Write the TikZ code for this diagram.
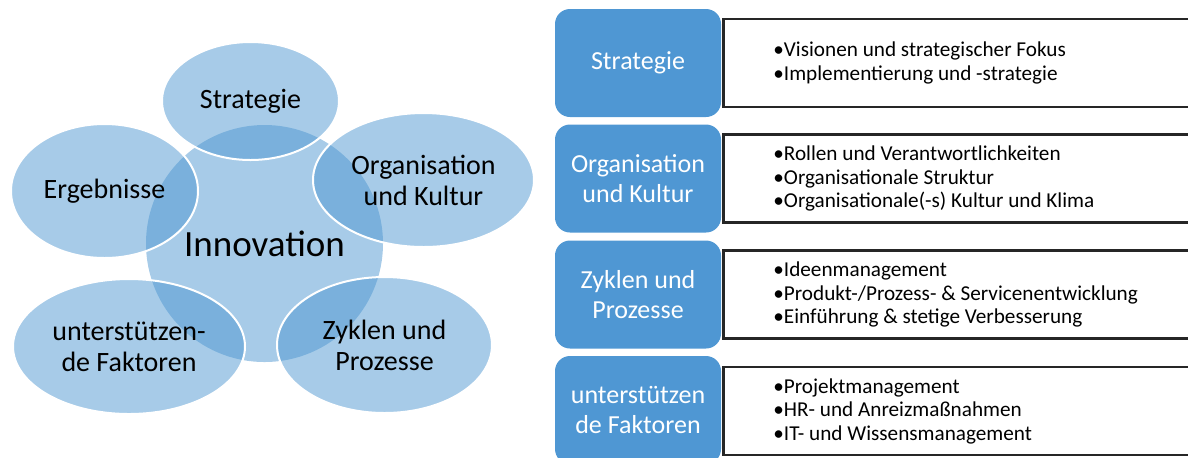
\documentclass[tikz,border=0pt]{standalone}
\usepackage{fontspec}
\setmainfont{Carlito}
\usepackage{xcolor}
\usetikzlibrary{shapes.geometric, positioning}
\definecolor{bubblefill}{RGB}{75,149,208}
\definecolor{boxblue}{RGB}{79,151,211}

\begin{document}
\begin{tikzpicture}[x=0.5pt, y=-0.5pt,
    bubble/.style={ellipse, fill=bubblefill, fill opacity=0.49, text opacity=1,
      draw=white, line width=1pt, inner sep=0pt, align=center,
      font=\fontsize{14}{15.5}\selectfont},
    hub/.style={bubble, circle, draw=none, font=\fontsize{18.5}{20}\selectfont},
    areabox/.style={rectangle, rounded corners=7.5pt, fill=boxblue, text=white,
      minimum width=83pt, minimum height=54pt, inner sep=0pt, align=center,
      font=\fontsize{13}{15}\selectfont},
    listbox/.style={rectangle, draw=black!85, line width=1.3pt, anchor=west,
      minimum width=240pt, minimum height=44pt, inner sep=0pt},
    items/.style={anchor=west, align=left, inner sep=0pt,
      font=\fontsize{10.6}{11.75}\selectfont}]
    \useasboundingbox (0,0) rectangle (1188,457);
    \clip (0,0) rectangle (1188,457);
    % Innovation circle and the five fields around it
    \node[hub, minimum size=118.5pt] (inno) at (264.5,243.5) {Innovation};
    \node[bubble, minimum width=88.5pt, minimum height=59pt] (strat) at (250.5,101) {Strategie};
    \node[bubble, minimum width=110.5pt, minimum height=67pt] (orga) at (423.5,180) {Organisation\\und Kultur};
    \node[bubble, minimum width=107.5pt, minimum height=68pt] (zyklen) at (384.5,345) {Zyklen und\\Prozesse};
    \node[bubble, minimum width=116pt, minimum height=67.5pt] (faktor) at (129,346.5) {unterstützen-\\de Faktoren};
    \node[bubble, minimum width=93.5pt, minimum height=67pt] (ergeb) at (104.5,191) {Ergebnisse};
    % Fields with their topics
    \node[areabox] (a1) at (638,63) {Strategie};
    \node[areabox] (a2) at (638,178.5) {Organisation\\und Kultur};
    \node[areabox] (a3) at (638,294.5) {Zyklen und\\Prozesse};
    \node[areabox] (a4) at (638,410) {unterstützen\\de Faktoren};
    \foreach \i/\y in {1/63, 2/178.5, 3/294.5, 4/411}
      \node[listbox] (l\i) at (722,\y) {};
    \node[items] (t1) at ([xshift=25.5pt]l1.west) {•Visionen und strategischer Fokus\\•Implementierung und -strategie};
    \node[items] (t2) at ([xshift=25.5pt]l2.west) {•Rollen und Verantwortlichkeiten\\•Organisationale Struktur\\•Organisationale(-s) Kultur und Klima};
    \node[items] (t3) at ([xshift=25.5pt]l3.west) {•Ideenmanagement\\•Produkt-/Prozess- \& Servicenentwicklung\\•Einführung \& stetige Verbesserung};
    \node[items] (t4) at ([xshift=25.5pt]l4.west) {•Projektmanagement\\•HR- und Anreizmaßnahmen\\•IT- und Wissensmanagement};
\end{tikzpicture}
\end{document}
